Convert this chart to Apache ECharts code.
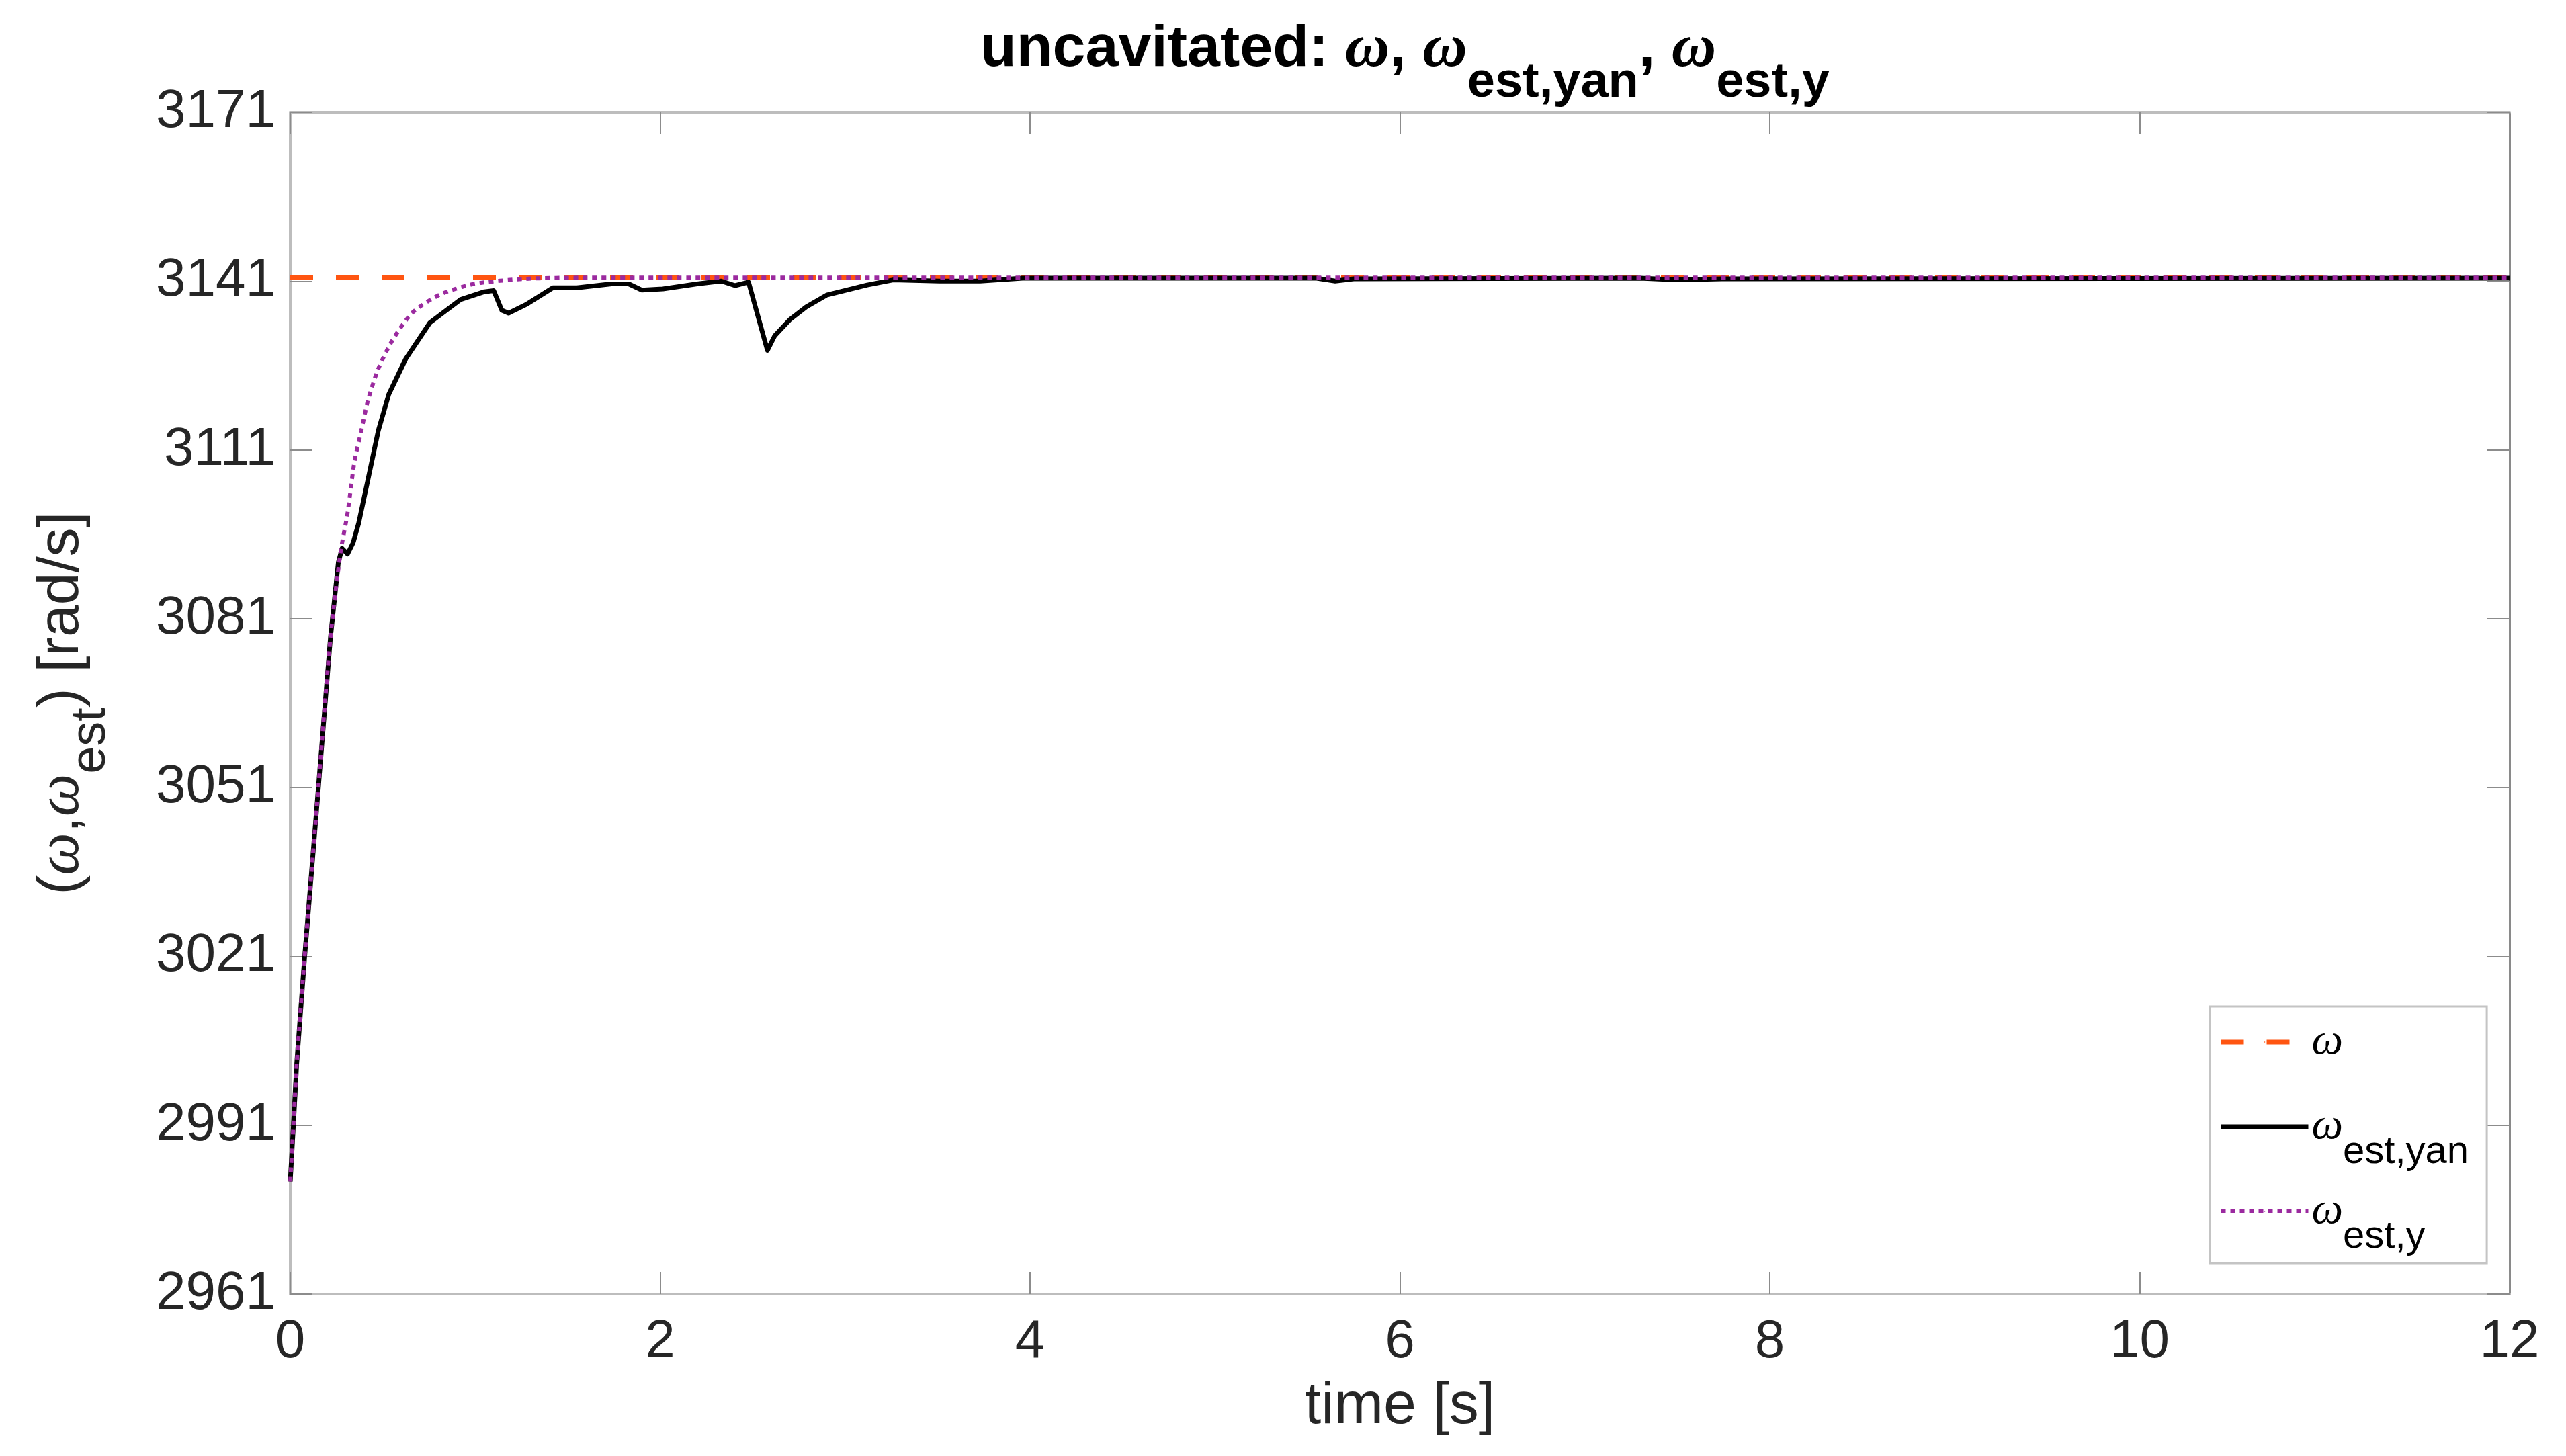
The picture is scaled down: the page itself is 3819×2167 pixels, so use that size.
<!DOCTYPE html>
<html><head><meta charset="utf-8">
<script src="https://cdn.jsdelivr.net/npm/echarts@6/dist/echarts.min.js"></script>
<style>html,body{margin:0;padding:0;background:#fff}#c{width:3819px;height:2167px}</style>
</head><body><div id="c"></div>
<script>
// ---- data ----
const xTicks = [0, 2, 4, 6, 8, 10, 12];
const yTicks = [2961, 2991, 3021, 3051, 3081, 3111, 3141, 3171];

const omegaT = [0, 12];
const omegaV = [3141.59, 3141.59];

const yanT = [0, 0.017, 0.035, 0.078, 0.144, 0.217, 0.26, 0.28, 0.31, 0.34, 0.37, 0.42, 0.476, 0.533, 0.625, 0.755, 0.92, 1.05, 1.10, 1.144, 1.18, 1.274, 1.42, 1.55, 1.737, 1.83, 1.90, 2.015, 2.20, 2.33, 2.405, 2.478, 2.58, 2.62, 2.70, 2.79, 2.90, 3.12, 3.26, 3.51, 3.73, 3.96, 5.0, 5.55, 5.65, 5.75, 7.3, 7.5, 7.74, 12];
const yanV = [2981, 2991, 3002, 3021, 3047.7, 3077.5, 3091, 3093.5, 3092.5, 3094.5, 3098, 3105.7, 3114.4, 3120.9, 3127.2, 3133.6, 3137.7, 3139.1, 3139.3, 3135.8, 3135.3, 3136.8, 3139.8, 3139.8, 3140.5, 3140.5, 3139.4, 3139.6, 3140.5, 3141.0, 3140.2, 3140.8, 3128.7, 3131.3, 3134.1, 3136.4, 3138.5, 3140.3, 3141.2, 3141.0, 3141.0, 3141.5, 3141.5, 3141.5, 3141.0, 3141.4, 3141.5, 3141.2, 3141.4, 3141.5];

const estYT = [0, 0.017, 0.035, 0.078, 0.144, 0.217, 0.272, 0.31, 0.347, 0.384, 0.421, 0.476, 0.551, 0.661, 0.81, 0.995, 1.274, 1.6, 12];
const estYV = [2981, 2991, 3002, 3021, 3047.7, 3077.5, 3092.8, 3099.8, 3108.9, 3114.4, 3119.9, 3125.4, 3130.4, 3135.4, 3138.6, 3140.5, 3141.4, 3141.59, 3141.59];

const seriesNames = ['ω', 'ω_est,yan', 'ω_est,y'];

// ---- chart ----
const FONT = 'Liberation Sans';
const GREEK = 'Liberation Serif';
const pair = (t, v) => t.map((x, i) => [x, v[i]]);
const chart = echarts.init(document.getElementById('c'), null, {renderer: 'canvas'});

const axisLineStyle = {color: '#bdbdbd', width: 4};
const tickStyle = {color: '#8c8c8c', width: 2};

const option = {
  animation: false,
  backgroundColor: '#ffffff',
  title: {
    text: '{b|uncavitated: }{w|ω}{b|, }{w|ω}{s|est,yan}{b|, }{w|ω}{s|est,y}',
    left: 1454, top: 24,
    textStyle: {
      rich: {
        b: {fontFamily: FONT, fontWeight: 'bold', fontSize: 88, lineHeight: 90, color: '#000'},
        w: {fontFamily: GREEK, fontStyle: 'italic', fontSize: 92, lineHeight: 90, color: '#000'},
        s: {fontFamily: FONT, fontWeight: 'bold', fontSize: 74, lineHeight: 90, padding: [50, 0, -50, 0], color: '#000'}
      }
    }
  },
  grid: {left: 432, right: 84, top: 167, bottom: 241, containLabel: false},
  legend: {
    orient: 'vertical', left: 3289, top: 1498,
    padding: [20, 27, 10, 13],
    itemGap: 26, itemWidth: 130, itemHeight: 2,
    backgroundColor: '#fff', borderColor: '#c4c4c4', borderWidth: 3, borderRadius: 0,
    lineStyle: {width: 'inherit'},
    data: seriesNames,
    formatter: function (name) {
      if (name === 'ω') return '{w|ω}{s| }';
      const sub = name.split('_')[1];
      return '{w|ω}{s|' + sub + '}';
    },
    textStyle: {
      rich: {
        w: {fontFamily: GREEK, fontStyle: 'italic', fontSize: 66, lineHeight: 70, color: '#000'},
        s: {fontFamily: FONT, fontSize: 58, lineHeight: 70, padding: [38, 0, -38, 0], color: '#000'}
      }
    }
  },
  xAxis: [
    {
      type: 'value', min: 0, max: 12, interval: 2, position: 'bottom',
      axisLine: {show: true, onZero: false, lineStyle: axisLineStyle},
      axisTick: {show: true, inside: true, length: 33, lineStyle: tickStyle},
      axisLabel: {show: true, margin: 31, fontFamily: FONT, fontSize: 80, lineHeight: 82, color: '#262626',
                  formatter: v => String(v)},
      splitLine: {show: false},
      name: 'time [s]', nameLocation: 'middle', nameGap: 105,
      nameTextStyle: {fontFamily: FONT, fontSize: 88, lineHeight: 100, color: '#262626'}
    },
    {
      type: 'value', min: 0, max: 12, interval: 2, position: 'top',
      axisLine: {show: true, onZero: false, lineStyle: axisLineStyle},
      axisTick: {show: true, inside: true, length: 33, lineStyle: tickStyle},
      axisLabel: {show: false}, splitLine: {show: false}
    }
  ],
  yAxis: [
    {
      type: 'value', min: 2961, max: 3171, position: 'left',
      axisLine: {show: true, onZero: false, lineStyle: axisLineStyle},
      axisTick: {show: true, inside: true, length: 33, lineStyle: tickStyle, customValues: yTicks},
      axisLabel: {show: true, margin: 22, fontFamily: FONT, fontSize: 80, color: '#262626', customValues: yTicks,
                  formatter: v => String(v)},
      splitLine: {show: false},
      name: '{n|(}{w|ω}{n|,}{w|ω}{s|est}{n|) [rad/s]}',
      nameLocation: 'middle', nameGap: 295,
      nameTextStyle: {
        rich: {
          n: {fontFamily: FONT, fontSize: 86, lineHeight: 90, color: '#262626'},
          w: {fontFamily: GREEK, fontStyle: 'italic', fontSize: 90, lineHeight: 90, color: '#262626'},
          s: {fontFamily: FONT, fontSize: 74, lineHeight: 90, padding: [44, 0, -44, 0], color: '#262626'}
        }
      }
    },
    {
      type: 'value', min: 2961, max: 3171, position: 'right',
      axisLine: {show: true, onZero: false, lineStyle: {color: '#8a8a8a', width: 3}},
      axisTick: {show: true, inside: true, length: 33, lineStyle: tickStyle, customValues: yTicks},
      axisLabel: {show: false}, splitLine: {show: false}
    }
  ],
  series: [
    {
      name: seriesNames[0], type: 'line', symbol: 'none', xAxisIndex: 0, yAxisIndex: 0,
      data: pair(omegaT, omegaV),
      lineStyle: {color: '#ff5511', width: 7, type: [34, 34], cap: 'butt'},
      itemStyle: {color: '#ff5511'}, z: 2
    },
    {
      name: seriesNames[1], type: 'line', symbol: 'none', xAxisIndex: 0, yAxisIndex: 0,
      data: pair(yanT, yanV),
      lineStyle: {color: '#000000', width: 7, type: 'solid', join: 'round'},
      itemStyle: {color: '#000000'}, z: 3
    },
    {
      name: seriesNames[2], type: 'line', symbol: 'none', xAxisIndex: 0, yAxisIndex: 0,
      data: pair(estYT, estYV), smooth: 0.25,
      lineStyle: {color: '#9b2a9f', width: 6, type: [7, 7], cap: 'butt'},
      itemStyle: {color: '#9b2a9f'}, z: 4
    }
  ]
};
chart.setOption(option);
</script>
</body></html>
